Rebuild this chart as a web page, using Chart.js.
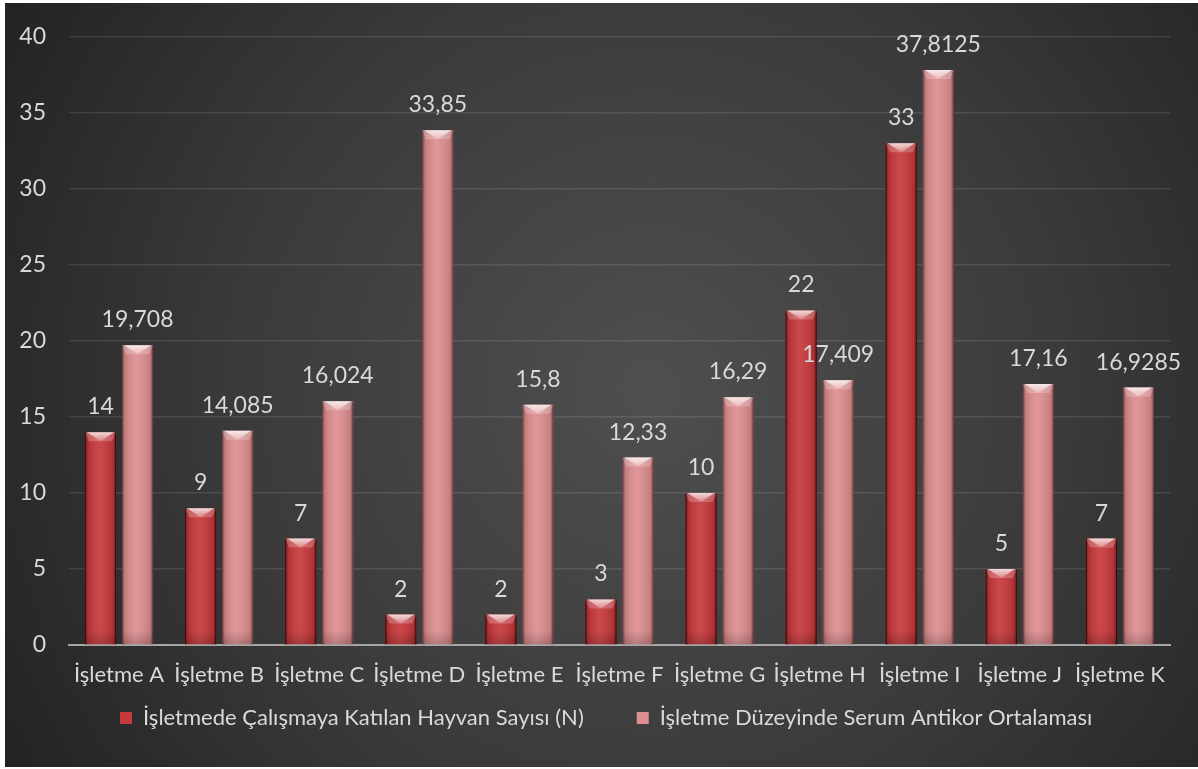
<!DOCTYPE html>
<html>
<head>
<meta charset="utf-8">
<script src="https://cdn.jsdelivr.net/npm/chart.js@4/dist/chart.umd.min.js"></script>
<style>
  html, body { margin: 0; padding: 0; background: #ffffff; }
  #wrap { width: 1198px; height: 769px; }
</style>
</head>
<body>
<div id="wrap"><canvas id="chart" width="1198" height="769"></canvas></div>
<script>
// Chart data
const categories = ['İşletme A', 'İşletme B', 'İşletme C', 'İşletme D', 'İşletme E', 'İşletme F',
                    'İşletme G', 'İşletme H', 'İşletme I', 'İşletme J', 'İşletme K'];
const seriesNames = ['İşletmede Çalışmaya Katılan Hayvan Sayısı (N)', 'İşletme Düzeyinde Serum Antikor Ortalaması'];
const animalCounts = [14, 9, 7, 2, 2, 3, 10, 22, 33, 5, 7];
const antibodyMeans = [19.708, 14.085, 16.024, 33.85, 15.8, 12.33, 16.29, 17.409, 37.8125, 17.16, 16.9285];
const yMin = 0;
const yMax = 40;
const yStep = 5;

const FONT = 'Lato, "Open Sans", sans-serif';
const textColor = '#d9d9d9';

// Dark radial background with the thin white frame on the left/top
const backgroundPlugin = {
    id: 'bg',
    beforeDraw(chart) {
        const ctx = chart.ctx;
        const w = chart.width, h = chart.height;
        ctx.save();
        ctx.fillStyle = '#ffffff';
        ctx.fillRect(0, 0, w, h);
        const g = ctx.createRadialGradient(650, 390, 0, 650, 390, 760);
        g.addColorStop(0, '#4f4f4f');
        g.addColorStop(0.55, '#3a3a3a');
        g.addColorStop(1, '#222222');
        ctx.fillStyle = g;
        ctx.fillRect(5, 3, w - 5, h - 5);
        ctx.restore();
    }
};

// Legend sits closer to the axis labels than its item spacing would allow
const legendNudgePlugin = {
    id: 'legendNudge',
    afterLayout(chart) {
        const lg = chart.legend;
        const dy = -51.4, dx = 23;
        lg.top += dy;
        lg.bottom = lg.top + 90;
        lg.height = 90;
        lg.left += dx; lg.right += dx;
    }
};

// Bevel look on top of the flat bars
const bevelPlugin = {
    id: 'bevel',
    afterDatasetsDraw(chart) {
        const ctx = chart.ctx;
        chart.data.datasets.forEach((ds, di) => {
            const meta = chart.getDatasetMeta(di);
            meta.data.forEach(bar => {
                const left = bar.x - bar.width / 2;
                const right = bar.x + bar.width / 2;
                const top = bar.y;
                const bottom = bar.base;
                const w = bar.width;
                ctx.save();
                // side shading
                const g = ctx.createLinearGradient(left, 0, right, 0);
                g.addColorStop(0, 'rgba(0,0,0,0.45)');
                g.addColorStop(0.1, 'rgba(0,0,0,0.12)');
                g.addColorStop(0.45, 'rgba(255,255,255,0.07)');
                g.addColorStop(0.9, 'rgba(0,0,0,0.12)');
                g.addColorStop(1, 'rgba(0,0,0,0.5)');
                ctx.fillStyle = g;
                ctx.fillRect(left, top, w, bottom - top);
                // soft base shadow
                const bg = ctx.createLinearGradient(0, bottom - 14, 0, bottom);
                bg.addColorStop(0, 'rgba(0,0,0,0)');
                bg.addColorStop(1, 'rgba(0,0,0,0.18)');
                ctx.fillStyle = bg;
                ctx.fillRect(left, Math.max(top, bottom - 14), w, Math.min(14, bottom - top));
                // top bevel
                const bh = Math.min(9, (bottom - top));
                ctx.beginPath();
                ctx.moveTo(left, top);
                ctx.lineTo(right, top);
                ctx.lineTo(right - 4, top + bh);
                ctx.lineTo(left + 4, top + bh);
                ctx.closePath();
                ctx.fillStyle = 'rgba(255,255,255,0.22)';
                ctx.fill();
                ctx.beginPath();
                ctx.moveTo(left + 2, top);
                ctx.lineTo(right - 2, top);
                ctx.lineTo(bar.x, top + bh);
                ctx.closePath();
                const tg = ctx.createLinearGradient(0, top, 0, top + bh);
                tg.addColorStop(0, 'rgba(255,255,255,0.75)');
                tg.addColorStop(1, 'rgba(255,255,255,0.15)');
                ctx.fillStyle = tg;
                ctx.fill();
                // dark edges
                ctx.strokeStyle = di === 0 ? 'rgba(50,0,0,0.7)' : 'rgba(90,30,30,0.4)';
                ctx.lineWidth = 1;
                ctx.beginPath();
                ctx.moveTo(left + 0.5, top);
                ctx.lineTo(left + 0.5, bottom);
                ctx.moveTo(right - 0.5, top);
                ctx.lineTo(right - 0.5, bottom);
                ctx.stroke();
                ctx.restore();
            });
        });
    }
};

// Value labels above each bar, decimal comma
const valueLabelPlugin = {
    id: 'valueLabels',
    afterDatasetsDraw(chart) {
        const ctx = chart.ctx;
        ctx.save();
        ctx.font = '23px ' + FONT;
        ctx.fillStyle = textColor;
        ctx.textAlign = 'center';
        ctx.textBaseline = 'alphabetic';
        chart.data.datasets.forEach((ds, di) => {
            const meta = chart.getDatasetMeta(di);
            meta.data.forEach((bar, i) => {
                const txt = String(ds.data[i]).replace('.', ',');
                ctx.fillText(txt, bar.x, bar.y - 18);
            });
        });
        ctx.restore();
    }
};

const ctx = document.getElementById('chart').getContext('2d');
const chart = new Chart(ctx, {
    type: 'bar',
    data: {
        labels: categories,
        datasets: [
            {
                label: seriesNames[0],
                data: animalCounts,
                backgroundColor: '#c8393c',
                borderWidth: 0
            },
            {
                label: seriesNames[1],
                data: antibodyMeans,
                backgroundColor: '#df8f91',
                borderWidth: 0
            }
        ]
    },
    options: {
        responsive: false,
        animation: false,
        layout: { padding: { left: -3.7, right: 28, top: 29.5, bottom: 23.6 } },
        datasets: {
            bar: { categoryPercentage: 0.74, barPercentage: 0.84 }
        },
        scales: {
            x: {
                grid: { display: false, drawTicks: false },
                border: { display: true, color: '#a6a6a6', width: 2 },
                ticks: { color: textColor, font: { family: FONT, size: 22 }, padding: 17, maxRotation: 0, autoSkip: false }
            },
            y: {
                min: yMin,
                max: yMax,
                ticks: { stepSize: yStep, color: textColor, font: { family: FONT, size: 23 }, padding: 23 },
                grid: { color: 'rgba(255,255,255,0.11)', lineWidth: 1.5, drawTicks: false },
                border: { display: false }
            }
        },
        plugins: {
            legend: {
                position: 'bottom',
                maxHeight: 40,
                labels: {
                    color: textColor,
                    font: { family: FONT, size: 22 },
                    boxWidth: 12,
                    boxHeight: 12,
                    padding: 53
                }
            },
            tooltip: { enabled: false }
        }
    },
    plugins: [backgroundPlugin, legendNudgePlugin, bevelPlugin, valueLabelPlugin]
});
</script>
</body>
</html>
